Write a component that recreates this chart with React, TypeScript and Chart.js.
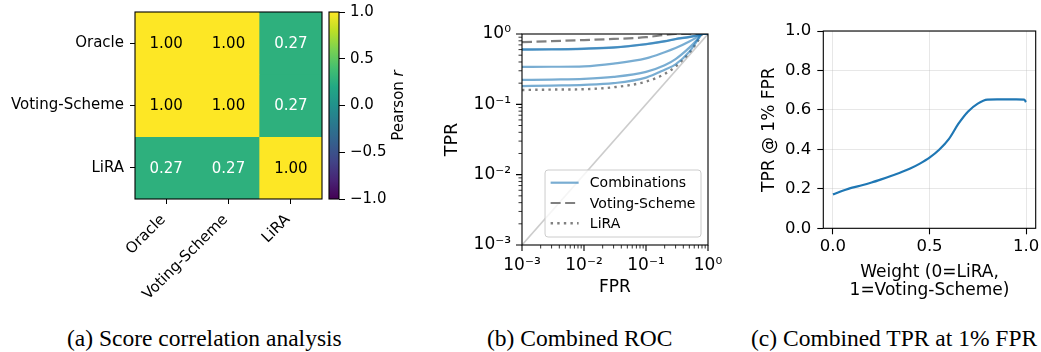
import React, { useEffect, useRef } from 'react';
import { Chart, registerables } from 'chart.js';

Chart.register(...registerables);

const FONT = 'DejaVu Sans';
Chart.defaults.font.family = FONT;
Chart.defaults.color = '#000';

// ---------- (a) Score correlation heatmap ----------
const methods = ['Oracle', 'Voting-Scheme', 'LiRA'];
const corrOracle = [1.0, 1.0, 0.27];
const corrVotingScheme = [1.0, 1.0, 0.27];
const corrLiRA = [0.27, 0.27, 1.0];
const corrRows = [corrOracle, corrVotingScheme, corrLiRA];
const colorbarTicks = [-1, -0.5, 0, 0.5, 1];
const colorbarRange = [-1, 1];
const colorbarLabel = 'Pearson ';
const colorbarSymbol = 'r';

// ---------- (b) Combined ROC ----------
const fpr = [0.001, 0.003, 0.01, 0.03, 0.1, 0.2, 0.3, 0.5, 0.7, 0.8, 1.0];
const tprCombo1 = [0.605, 0.607, 0.62, 0.645, 0.72, 0.79, 0.85, 0.91, 0.97, 1.0, 1.0];
const tprCombo2 = [0.6, 0.603, 0.615, 0.64, 0.715, 0.785, 0.845, 0.905, 0.965, 1.0, 1.0];
const tprCombo3 = [0.34, 0.342, 0.347, 0.38, 0.45, 0.55, 0.63, 0.78, 0.93, 1.0, 1.0];
const tprCombo4 = [0.222, 0.225, 0.23, 0.246, 0.29, 0.36, 0.44, 0.64, 0.87, 1.0, 1.0];
const tprCombo5 = [0.182, 0.185, 0.189, 0.2, 0.24, 0.31, 0.37, 0.56, 0.85, 1.0, 1.0];
const tprVotingScheme = [0.765, 0.79, 0.82, 0.85, 0.9, 0.97, 1.0, 1.0, 1.0, 1.0, 1.0];
const tprLiRA = [0.16, 0.162, 0.164, 0.175, 0.21, 0.27, 0.345, 0.54, 0.82, 0.98, 1.0];
const chanceLine = [0.001, 1.0];
const rocDecades = [0.001, 0.01, 0.1, 1];

// ---------- (c) Combined TPR at 1% FPR ----------
const weights = [0, 0.05, 0.1, 0.15, 0.2, 0.25, 0.3, 0.35, 0.4, 0.45, 0.5, 0.55, 0.6, 0.65, 0.7, 0.75, 0.8, 0.85, 0.9, 0.95, 0.99, 1.0];
const tprAt1pct = [0.172, 0.19, 0.206, 0.218, 0.232, 0.248, 0.265, 0.283, 0.303, 0.328, 0.358, 0.398, 0.452, 0.53, 0.592, 0.632, 0.652, 0.653, 0.653, 0.653, 0.652, 0.64];
const weightTicks = [0, 0.5, 1];
const tprTicks = [0, 0.2, 0.4, 0.6, 0.8, 1.0];

const captions = ['(a) Score correlation analysis', '(b) Combined ROC', '(c) Combined TPR at 1% FPR'];

// ---------- helpers ----------
const VIRIDIS = ['#440154', '#482475', '#414487', '#355f8d', '#2a788e', '#21918c', '#22a884', '#44bf70', '#7ad151', '#bddf26', '#fde725'];
const hex = (h: string) => [1, 3, 5].map((i) => parseInt(h.slice(i, i + 2), 16));
function viridis(t: number) {
  const c = Math.max(0, Math.min(1, t));
  const p = c * (VIRIDIS.length - 1);
  const i = Math.min(VIRIDIS.length - 2, Math.floor(p));
  const f = p - i;
  const a = hex(VIRIDIS[i]);
  const b = hex(VIRIDIS[i + 1]);
  const m = a.map((v, k) => Math.round(v + (b[k] - v) * f));
  return `rgb(${m[0]},${m[1]},${m[2]})`;
}

const SUP: Record<string, string> = { '-': '\u207B', '0': '\u2070', '1': '\u00B9', '2': '\u00B2', '3': '\u00B3', '4': '\u2074', '5': '\u2075', '6': '\u2076', '7': '\u2077', '8': '\u2078', '9': '\u2079' };
const pow10Label = (v: number) => '10' + String(Math.round(Math.log10(v))).split('').map((ch) => SUP[ch]).join('');
const minusFmt = (v: number) => (v < 0 ? '\u2212' + Math.abs(v).toFixed(1) : v.toFixed(1));

const fixY = (w: number) => (s: any) => {
  s.width = w;
  s.paddingTop = 0; s.paddingBottom = 0; s.paddingLeft = 0; s.paddingRight = 0;
};
const fixX = (h: number) => (s: any) => {
  s.height = h;
  s.paddingTop = 0; s.paddingBottom = 0; s.paddingLeft = 0; s.paddingRight = 0;
};
const setTicks = (vals: number[]) => (s: any) => {
  s.ticks = vals.map((v) => ({ value: v }));
};

const framePlugin = (lw = 1.1) => ({
  id: 'frame',
  afterDatasetsDraw(chart: any) {
    const { ctx, chartArea: a } = chart;
    ctx.save();
    ctx.strokeStyle = '#000';
    ctx.lineWidth = lw;
    ctx.strokeRect(a.left, a.top, a.right - a.left, a.bottom - a.top);
    ctx.restore();
  },
});

const baseOpts = {
  animation: false,
  responsive: false,
  events: [],
};
const noLegend = { legend: { display: false }, tooltip: { enabled: false } };

// ---------- chart configs ----------
function heatmapConfig(): any {
  const cellText = {
    id: 'cellText',
    afterDatasetsDraw(chart: any) {
      const { ctx } = chart;
      const xs = chart.scales.x;
      const ys = chart.scales.y;
      ctx.save();
      ctx.font = `15px "${FONT}"`;
      ctx.textAlign = 'center';
      ctx.textBaseline = 'middle';
      corrRows.forEach((row, r) =>
        row.forEach((v, c) => {
          ctx.fillStyle = v > 0.5 ? '#000' : '#fff';
          ctx.fillText(v.toFixed(2), xs.getPixelForValue(c), ys.getPixelForValue(r) + 1);
        })
      );
      ctx.restore();
    },
  };
  return {
    type: 'bar',
    data: {
      labels: methods,
      datasets: corrRows.map((row, r) => ({
        data: row.map(() => [r - 0.5, r + 0.5]),
        backgroundColor: row.map((v) => viridis((v - colorbarRange[0]) / (colorbarRange[1] - colorbarRange[0]))),
        borderWidth: 0,
        barPercentage: 1,
        categoryPercentage: 1,
        grouped: false,
      })),
    },
    options: {
      ...baseOpts,
      layout: { padding: { left: 0, top: 12, right: 8, bottom: 0 } },
      scales: {
        x: {
          ticks: { minRotation: 45, maxRotation: 45, autoSkip: false, font: { size: 15 }, color: '#000', padding: 7, labelOffset: -3 },
          grid: { offset: false, drawOnChartArea: false, drawTicks: true, tickLength: 5, tickColor: '#000', color: '#000' },
          border: { display: false },
          afterFit: fixX(121),
        },
        y: {
          type: 'linear',
          min: -0.5,
          max: 2.5,
          reverse: true,
          afterBuildTicks: setTicks([0, 1, 2]),
          ticks: { callback: (v: number) => methods[v], font: { size: 15 }, color: '#000', padding: 6, autoSkip: false },
          grid: { drawOnChartArea: false, drawTicks: true, tickLength: 5, tickColor: '#000', color: '#000' },
          border: { display: false },
          afterFit: fixY(135),
        },
      },
      plugins: noLegend,
    },
    plugins: [cellText, framePlugin(1.1)],
  };
}

function colorbarConfig(): any {
  const title = {
    id: 'cbTitle',
    afterDraw(chart: any) {
      const { ctx } = chart;
      const a = chart.chartArea;
      const cx = 79;
      const cy = (a.top + a.bottom) / 2;
      ctx.save();
      ctx.translate(cx, cy);
      ctx.rotate(-Math.PI / 2);
      ctx.fillStyle = '#000';
      ctx.textBaseline = 'middle';
      ctx.textAlign = 'left';
      ctx.font = `15px "${FONT}"`;
      const w1 = ctx.measureText(colorbarLabel).width;
      ctx.font = `italic 15px "${FONT}"`;
      const w2 = ctx.measureText(colorbarSymbol).width;
      const x0 = -(w1 + w2) / 2;
      ctx.font = `15px "${FONT}"`;
      ctx.fillText(colorbarLabel, x0, 0);
      ctx.font = `italic 15px "${FONT}"`;
      ctx.fillText(colorbarSymbol, x0 + w1, 0);
      ctx.restore();
    },
  };
  return {
    type: 'bar',
    data: {
      labels: [''],
      datasets: [
        {
          data: [colorbarRange],
          backgroundColor: (c: any) => {
            const a = c.chart.chartArea;
            if (!a) return viridis(0.5);
            const g = c.chart.ctx.createLinearGradient(0, a.bottom, 0, a.top);
            VIRIDIS.forEach((col, i) => g.addColorStop(i / (VIRIDIS.length - 1), col));
            return g;
          },
          borderWidth: 0,
          barPercentage: 1,
          categoryPercentage: 1,
        },
      ],
    },
    options: {
      ...baseOpts,
      layout: { padding: { left: 9, top: 12, right: 0, bottom: 101 } },
      scales: {
        x: { display: false },
        y: {
          position: 'right',
          min: colorbarRange[0],
          max: colorbarRange[1],
          afterBuildTicks: setTicks(colorbarTicks),
          ticks: { callback: (v: number) => minusFmt(v), font: { size: 15 }, color: '#000', padding: 5, autoSkip: false },
          grid: { drawOnChartArea: false, drawTicks: true, tickLength: 6, tickColor: '#000', color: '#000' },
          border: { display: false },
          afterFit: fixY(81),
        },
      },
      plugins: noLegend,
    },
    plugins: [framePlugin(1.1), title],
  };
}

function rocConfig(): any {
  const blue = 'rgba(31,119,180,0.6)';
  const gray = '#808080';
  const combos = [tprCombo1, tprCombo2, tprCombo3, tprCombo4, tprCombo5];
  const line = (t: number[]) => fpr.map((x, j) => ({ x, y: t[j] }));
  const ticksPlugin = {
    id: 'logTicks',
    afterDatasetsDraw(chart: any) {
      const { ctx, chartArea: a } = chart;
      const xs = chart.scales.x;
      const ys = chart.scales.y;
      ctx.save();
      ctx.strokeStyle = '#000';
      for (let d = -3; d <= 0; d++) {
        for (let m = 1; m <= 9; m++) {
          if (d === 0 && m > 1) break;
          const v = m * Math.pow(10, d);
          const len = m === 1 ? 6 : 3.5;
          ctx.lineWidth = m === 1 ? 1.1 : 0.8;
          const px = xs.getPixelForValue(v);
          const py = ys.getPixelForValue(v);
          ctx.beginPath();
          ctx.moveTo(px, a.bottom);
          ctx.lineTo(px, a.bottom + len);
          ctx.moveTo(a.left, py);
          ctx.lineTo(a.left - len, py);
          ctx.stroke();
        }
      }
      ctx.restore();
    },
  };
  const legendPlugin = {
    id: 'rocLegend',
    afterDraw(chart: any) {
      const { ctx, chartArea: a } = chart;
      const items = chart.data.datasets.filter((d: any) => d.label);
      ctx.save();
      ctx.font = `14px "${FONT}"`;
      const tw = Math.max(...items.map((d: any) => ctx.measureText(d.label).width));
      const right = a.right - 7;
      const bottom = a.bottom - 8;
      const w = 5.6 + 28 + 11.2 + tw + 5.6;
      const h = 67;
      const left = right - w;
      const top = bottom - h;
      const r = 3;
      ctx.beginPath();
      ctx.moveTo(left + r, top);
      ctx.lineTo(right - r, top);
      ctx.arcTo(right, top, right, top + r, r);
      ctx.lineTo(right, bottom - r);
      ctx.arcTo(right, bottom, right - r, bottom, r);
      ctx.lineTo(left + r, bottom);
      ctx.arcTo(left, bottom, left, bottom - r, r);
      ctx.lineTo(left, top + r);
      ctx.arcTo(left, top, left + r, top, r);
      ctx.closePath();
      ctx.fillStyle = 'rgba(255,255,255,0.8)';
      ctx.fill();
      ctx.strokeStyle = '#cccccc';
      ctx.lineWidth = 1;
      ctx.stroke();
      items.forEach((d: any, i: number) => {
        const y = top + 12.7 + i * 20.3;
        ctx.beginPath();
        ctx.setLineDash(d.borderDash || []);
        ctx.strokeStyle = d.borderColor;
        ctx.lineWidth = d.borderWidth;
        ctx.moveTo(left + 5.6, y);
        ctx.lineTo(left + 5.6 + 28, y);
        ctx.stroke();
        ctx.setLineDash([]);
        ctx.fillStyle = '#000';
        ctx.textAlign = 'left';
        ctx.textBaseline = 'middle';
        ctx.fillText(d.label, left + 5.6 + 28 + 11.2, y + 1);
      });
      ctx.restore();
    },
  };
  return {
    type: 'line',
    data: {
      datasets: [
        ...combos.map((t, i) => ({
          label: i === 0 ? 'Combinations' : '',
          data: line(t),
          borderColor: blue,
          borderWidth: 2.2,
          pointRadius: 0,
          cubicInterpolationMode: 'monotone',
          fill: false,
        })),
        { label: 'Voting-Scheme', data: line(tprVotingScheme), borderColor: gray, borderWidth: 2.2, borderDash: [10, 4.5], pointRadius: 0, cubicInterpolationMode: 'monotone', fill: false },
        { label: 'LiRA', data: line(tprLiRA), borderColor: gray, borderWidth: 2.4, borderDash: [2.4, 4.2], pointRadius: 0, cubicInterpolationMode: 'monotone', fill: false },
        { label: '', data: chanceLine.map((v) => ({ x: v, y: v })), borderColor: '#cccccc', borderWidth: 1.6, pointRadius: 0, fill: false },
      ],
    },
    options: {
      ...baseOpts,
      layout: { padding: { left: 0, top: 34, right: 22, bottom: 0 } },
      scales: {
        x: {
          type: 'logarithmic',
          min: 0.001,
          max: 1,
          afterBuildTicks: setTicks(rocDecades),
          ticks: { callback: (v: number) => pow10Label(v), font: { size: 17 }, color: '#000', padding: 10, autoSkip: false, minRotation: 0, maxRotation: 0 },
          grid: { display: false, drawTicks: false },
          border: { display: false },
          title: { display: true, text: 'FPR', font: { size: 17 }, color: '#000', padding: { top: 0, bottom: 2.1 } },
          afterFit: fixX(55),
        },
        y: {
          type: 'logarithmic',
          min: 0.001,
          max: 1,
          afterBuildTicks: setTicks(rocDecades),
          ticks: { callback: (v: number) => pow10Label(v), font: { size: 17 }, color: '#000', padding: 11, autoSkip: false },
          grid: { display: false, drawTicks: false },
          border: { display: false },
          title: { display: true, text: 'TPR', font: { size: 17.5 }, color: '#000', padding: { top: 12.3, bottom: 0 } },
          afterFit: fixY(92),
        },
      },
      plugins: noLegend,
    },
    plugins: [framePlugin(1.1), ticksPlugin, legendPlugin],
  };
}

function weightConfig(): any {
  return {
    type: 'line',
    data: {
      datasets: [
        {
          data: weights.map((w, i) => ({ x: w, y: tprAt1pct[i] })),
          borderColor: '#1f77b4',
          borderWidth: 2.2,
          pointRadius: 0,
          cubicInterpolationMode: 'monotone',
          fill: false,
        },
      ],
    },
    options: {
      ...baseOpts,
      layout: { padding: { left: 0, top: 31, right: 5.3, bottom: 0 } },
      scales: {
        x: {
          type: 'linear',
          min: -0.05,
          max: 1.05,
          afterBuildTicks: setTicks(weightTicks),
          ticks: { callback: (v: number) => v.toFixed(1), font: { size: 16.5 }, color: '#000', padding: 3, autoSkip: false, minRotation: 0, maxRotation: 0 },
          grid: { color: 'rgba(176,176,176,0.3)', lineWidth: 1, drawTicks: true, tickLength: 6, tickColor: '#000', tickWidth: 1.1 },
          border: { display: false },
          title: { display: true, text: ['Weight (0=LiRA,', '1=Voting-Scheme)'], font: { size: 17, lineHeight: 18 / 17 }, color: '#000', padding: { top: 0, bottom: 0.3 } },
          afterFit: fixX(71.7),
        },
        y: {
          type: 'linear',
          min: 0,
          max: 1,
          afterBuildTicks: setTicks(tprTicks),
          ticks: { callback: (v: number) => v.toFixed(1), font: { size: 16.5 }, color: '#000', padding: 6, autoSkip: false },
          grid: { color: 'rgba(176,176,176,0.3)', lineWidth: 1, drawTicks: true, tickLength: 6, tickColor: '#000', tickWidth: 1.1 },
          border: { display: false },
          title: { display: true, text: 'TPR @ 1% FPR', font: { size: 17 }, color: '#000', padding: { top: 19.1, bottom: 0 } },
          afterFit: fixY(83.3),
        },
      },
      plugins: noLegend,
    },
    plugins: [framePlugin(1.1)],
  };
}

function ChartBox({ left, top, width, height, make }: { left: number; top: number; width: number; height: number; make: () => any }) {
  const ref = useRef<HTMLCanvasElement>(null);
  useEffect(() => {
    const chart = new Chart(ref.current as HTMLCanvasElement, make());
    return () => chart.destroy();
  }, []);
  return (
    <canvas
      ref={ref}
      width={width}
      height={height}
      style={{ position: 'absolute', left, top, width, height }}
    />
  );
}

const captionLefts = [67, 487, 751];

export default function App() {
  return (
    <div style={{ position: 'fixed', left: 0, top: 0, width: 1041, height: 352, background: '#fff', overflow: 'hidden' }}>
      <ChartBox left={0} top={0} width={330} height={320} make={heatmapConfig} />
      <ChartBox left={320} top={0} width={100} height={300} make={colorbarConfig} />
      <ChartBox left={430} top={0} width={300} height={300} make={rocConfig} />
      <ChartBox left={740} top={0} width={301} height={300} make={weightConfig} />
      {captions.map((c, i) => (
        <div
          key={i}
          style={{
            position: 'absolute',
            left: captionLefts[i],
            top: 326.8,
            font: '23.5px "Liberation Serif"',
            lineHeight: '23.5px',
            whiteSpace: 'nowrap',
            color: '#000',
          }}
        >
          {c}
        </div>
      ))}
    </div>
  );
}
